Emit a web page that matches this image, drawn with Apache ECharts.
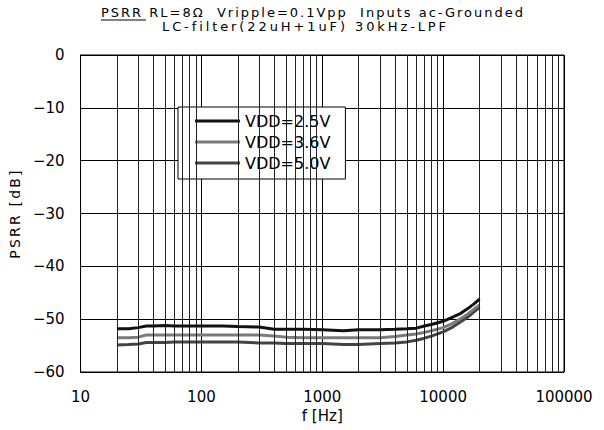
<!DOCTYPE html>
<html>
<head>
<meta charset="utf-8">
<script src="https://cdn.jsdelivr.net/npm/echarts@6/dist/echarts.min.js"></script>
<style>html,body{margin:0;padding:0;background:#fff}#c{width:604px;height:430px}</style>
</head>
<body>
<div id="c"></div>
<script>
var freqs = [20, 25, 30, 35, 40, 50, 60, 80, 100, 150, 200, 300, 400, 500, 700, 1000, 1500, 2000, 3000, 4000, 5000, 6000, 7000, 8000, 10000, 12000, 14000, 16000, 18000, 20000];
var vdd25 = [-51.8, -51.8, -51.6, -51.3, -51.3, -51.2, -51.3, -51.3, -51.3, -51.3, -51.4, -51.5, -51.9, -51.9, -51.9, -52.0, -52.2, -52.0, -52.0, -51.9, -51.8, -51.7, -51.3, -51.0, -50.4, -49.6, -48.9, -48.0, -47.1, -46.2];
var vdd36 = [-53.5, -53.5, -53.4, -53.0, -53.0, -53.0, -53.0, -53.0, -53.0, -53.0, -53.0, -53.0, -53.2, -53.4, -53.5, -53.5, -53.5, -53.5, -53.5, -53.3, -53.0, -52.8, -52.5, -52.2, -51.6, -50.8, -49.9, -49.0, -48.1, -47.3];
var vdd50 = [-54.9, -54.8, -54.7, -54.4, -54.4, -54.4, -54.3, -54.3, -54.3, -54.3, -54.3, -54.5, -54.5, -54.6, -54.6, -54.6, -54.8, -54.8, -54.6, -54.5, -54.3, -54.0, -53.6, -53.2, -52.4, -51.5, -50.5, -49.6, -48.6, -47.8];
var seriesNames = ['VDD=2.5V', 'VDD=3.6V', 'VDD=5.0V'];
var seriesColors = ['#111111', '#7a7a7a', '#444444'];
var xTickLabels = ['10', '100', '1000', '10000', '100000'];
var yTicks = [0, -10, -20, -30, -40, -50, -60];
var titleLine1 = 'PSRR RL=8Ω  Vripple=0.1Vpp  Inputs ac-Grounded';
var titleLine2 = 'LC-filter(22uH+1uF) 30kHz-LPF';
var yName = 'PSRR [dB]';
var xName = 'f [Hz]';

var minorLines = [];
for (var d = 10; d < 100000; d *= 10) {
  for (var k = 2; k <= 9; k++) minorLines.push({xAxis: d * k});
}

function pairs(ys) { return freqs.map(function (f, i) { return [f, ys[i]]; }); }
var font = '"DejaVu Sans", "Liberation Sans", sans-serif';

var chart = echarts.init(document.getElementById('c'), null, {renderer: 'svg'});
chart.setOption({
  animation: false,
  backgroundColor: '#fff',
  textStyle: {fontFamily: font},
  graphic: [
    {type: 'text', left: 101, top: 6, style: {text: titleLine1, font: '13px ' + font, fill: '#000'}},
    {type: 'text', left: 162, top: 20, style: {text: titleLine2, font: '13px ' + font, fill: '#000'}},
    {type: 'line', shape: {x1: 101, y1: 20, x2: 146, y2: 20}, style: {stroke: '#000', lineWidth: 1}}
  ],
  legend: {
    orient: 'vertical', left: 178, top: 107,
    data: seriesNames,
    icon: 'rect', itemWidth: 45, itemHeight: 3, itemGap: 5,
    padding: [6, 15, 8, 17],
    backgroundColor: '#fff', borderColor: '#000', borderWidth: 1,
    textStyle: {fontSize: 16, color: '#000', lineHeight: 16, fontFamily: font}
  },
  grid: {left: 79, right: 40, top: 55, bottom: 58, show: true, borderColor: '#000', borderWidth: 1},
  xAxis: {
    type: 'log', logBase: 10, min: 10, max: 100000,
    name: xName, nameLocation: 'middle', nameGap: 36,
    nameTextStyle: {fontSize: 15, color: '#000', fontFamily: font},
    axisLine: {lineStyle: {color: '#000'}}, axisTick: {show: false},
    axisLabel: {fontSize: 15, color: '#000', margin: 17, formatter: function (v) { var s = String(Math.round(v)); return xTickLabels.indexOf(s) >= 0 ? s : ''; }},
    splitLine: {show: true, lineStyle: {color: '#000', width: 1}}
  },
  yAxis: {
    type: 'value', min: -60, max: 0, interval: 10,
    name: yName, nameLocation: 'middle', nameGap: 52, nameRotate: 90,
    nameTextStyle: {fontSize: 14, color: '#000', fontFamily: font},
    axisLine: {show: true, lineStyle: {color: '#000'}}, axisTick: {show: false},
    axisLabel: {fontSize: 15, color: '#000', margin: 16, formatter: function (v) { return yTicks.indexOf(v) >= 0 ? String(v).replace('-', '\u2212') : ''; }},
    splitLine: {show: true, lineStyle: {color: '#000', width: 1}}
  },
  series: [
    {name: 'grid-minor', type: 'line', data: [], silent: true,
     markLine: {silent: true, symbol: 'none', label: {show: false}, animation: false,
       lineStyle: {color: '#222', width: 1, type: 'solid'}, data: minorLines}},
    {name: seriesNames[2], type: 'line', data: pairs(vdd50), symbol: 'none', color: seriesColors[2], lineStyle: {width: 3, color: seriesColors[2]}, z: 3},
    {name: seriesNames[1], type: 'line', data: pairs(vdd36), symbol: 'none', color: seriesColors[1], lineStyle: {width: 3, color: seriesColors[1]}, z: 4},
    {name: seriesNames[0], type: 'line', data: pairs(vdd25), symbol: 'none', color: seriesColors[0], lineStyle: {width: 3, color: seriesColors[0]}, z: 5}
  ]
});

// widen letter spacing to match the reference typography
var spacing = {};
spacing[titleLine1] = '2px';
spacing[titleLine2] = '2.9px';
spacing[yName] = '2.2px';
var texts = document.querySelectorAll('#c svg text');
for (var i = 0; i < texts.length; i++) {
  var t = texts[i].textContent;
  if (spacing[t]) texts[i].style.letterSpacing = spacing[t];
}
</script>
</body>
</html>
